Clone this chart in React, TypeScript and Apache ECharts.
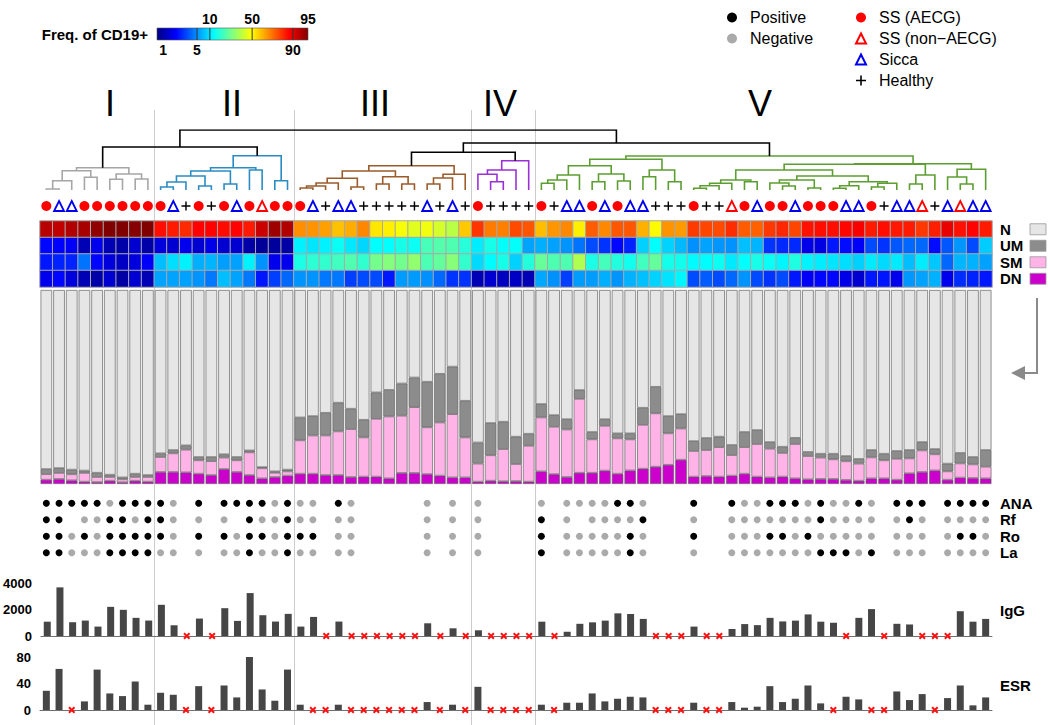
import React, { useEffect, useRef } from 'react';
import * as echarts from 'echarts';

const FONT = '"Liberation Sans", Arial, Helvetica, sans-serif';

const clusterNames = ['I', 'II', 'III', 'IV', 'V'];
const clusterSizes = [9, 11, 14, 5, 36];
const clusterColors = ['#a6a6a6', '#2b8cc4', '#9c5b2b', '#9b30d8', '#5c9e31'];
const clusterLabelX = [110, 232, 375, 500, 760];

// A = SS (AECG), N = SS (non−AECG), S = Sicca, H = Healthy
const groupCodes = [
  'ASSAAAAAA',
  'ASHAHASANAA',
  'ASHSSHHHHHSHSH',
  'AHHHH',
  'AHSSASASSHHHAHHNASAASAAASSAHSSNHSNSS',
].join('').split('');

// B-cell subset frequencies (% of CD19+)
const pctN = [92.3, 91.8, 92.6, 93.1, 94.2, 95.2, 96.6, 94.7, 95.4,
  84.2, 82.5, 80.1, 86.1, 86.1, 84.7, 86.1, 82.7, 91.3, 93.5, 92.6,
  65.7, 65.0, 63.3, 58.1, 61.2, 66.9, 52.8, 51.5, 48.2, 45.1, 47.3, 43.2, 39.5, 57.1,
  78.6, 68.6, 67.9, 75.6, 74.1,
  58.8, 64.5, 66.6, 51.6, 73.2, 66.6, 73.9, 73.9, 60.7, 49.9, 65.0, 64.0, 77.9, 76.3, 75.6, 79.9, 73.2, 72.2,
  78.4, 80.8, 76.2, 83.5, 84.4, 84.4, 85.6, 87.1, 82.5, 84.4, 83.0, 82.5, 78.4, 82.0, 89.5, 84.0, 86.1, 82.5];
const pctUM = [2.6, 2.5, 2.4, 1.2, 2.2, 1.2, 1.0, 1.7, 1.0,
  1.9, 1.7, 2.2, 1.7, 2.1, 1.7, 1.7, 1.0, 0.6, 0.7, 0.9,
  11.8, 10.0, 11.7, 14.8, 10.5, 9.1, 13.6, 13.7, 16.6, 15.3, 23.5, 25.1, 24.5, 18.9,
  10.9, 16.6, 14.1, 14.1, 6.2,
  6.9, 6.0, 5.3, 4.5, 3.8, 3.4, 2.6, 3.1, 8.8, 13.7, 8.9, 7.4, 5.1, 6.2, 5.4, 5.2, 7.8, 7.2,
  3.4, 3.2, 3.2, 2.1, 2.0, 2.9, 2.7, 2.4, 3.8, 3.4, 4.0, 4.3, 4.3, 2.7, 4.0, 5.4, 3.8, 8.6];
const pctSM = [2.9, 3.1, 3.1, 4.5, 2.6, 1.9, 1.5, 1.9, 2.4,
  7.7, 9.6, 11.7, 6.9, 7.2, 5.9, 6.0, 11.7, 5.2, 2.2, 2.2,
  17.2, 19.7, 20.4, 22.5, 24.7, 20.2, 29.8, 31.9, 29.5, 33.9, 24.1, 27.4, 32.6, 20.6,
  9.3, 13.1, 16.6, 8.8, 18.5,
  27.8, 24.4, 24.5, 38.1, 17.2, 23.1, 18.2, 16.0, 22.6, 27.5, 16.2, 16.1, 13.2, 13.4, 15.2, 10.6, 13.7, 16.8,
  14.8, 12.2, 17.7, 12.0, 11.0, 10.1, 9.6, 8.8, 10.8, 9.3, 10.8, 7.7, 11.1, 8.3, 4.3, 7.3, 7.0, 6.0];
const pctDN = [2.2, 2.6, 1.9, 1.2, 1.0, 1.7, 0.9, 1.7, 1.2,
  6.2, 6.2, 6.0, 5.3, 4.6, 7.7, 6.2, 4.6, 2.9, 3.6, 4.3,
  5.3, 5.3, 4.6, 4.6, 3.6, 3.8, 3.8, 2.9, 5.7, 5.7, 5.1, 4.3, 3.4, 3.4,
  1.2, 1.7, 1.4, 1.5, 1.2,
  6.5, 5.1, 3.6, 5.8, 5.8, 6.9, 5.3, 7.0, 7.9, 8.9, 9.9, 12.5, 3.8, 4.1, 3.8, 4.3, 5.3, 3.8,
  3.4, 3.8, 2.9, 2.4, 2.6, 2.6, 2.1, 1.7, 2.9, 2.9, 2.2, 5.5, 6.2, 7.0, 2.2, 3.3, 3.1, 2.9];

// serum IgG and ESR (null = not measured)
const igg = [1080, 3670, 1040, 1165, 710, 2200, 1975, 1370, 1165,
  2355, 810, null, 1316, null, 2100, 1140, 3240, 1570, 1090, 1670,
  710, 1440, null, 1090, null, null, null, null, null, null, 960, null, 580, null,
  430, null, null, null, null,
  1080, null, 320, 920, 1030, 1160, 1710, 1660, 1290, null, null, null, 710, null, null, 530, 900, 820,
  1370, 1100, 1160, 1630, 1080, 1000, null, 1370, 2030, null, 920, 870, null, null, null, 1870, 1080, 1290];
const esr = [29, 62, null, 13, 61, 25, 21, 43, 8,
  26, 23, null, 36, null, 37, 19, 80, 31, 14, 61,
  8, null, null, 8, null, null, null, null, null, null, 12, null, 8, null,
  35, null, null, null, null,
  8, null, 11, 11, 25, 13, 17, 20, 19, null, null, null, 11, null, null, 12, 3.5, 5,
  36, 12, 17, 37, 10, null, 20, 16, null, null, 28, 15, 24, null, 18, 37, 7, 19];

// autoantibodies: 1 positive, 0 negative, - not tested
const ana = '111110111' + '10-1-111101' + '00-10-----0-0-' + '0----' + '0-0000110---1--100111010010-111-1111';
const rf = '11-001101' + '10-0-0-1001' + '00-00-----0-0-' + '0----' + '1-0-00001---0--000000010000-010-0000';
const ro = '110101111' + '10-1-101101' + '11-00-----0-0-' + '0----' + '1-0000010---1--000110100000-000-0110';
const la = '110001111' + '00-0-001001' + '00-00-----0-0-' + '0----' + '1-0000010---0--000000011101-000-0000';
const abNames = ['ANA', 'Rf', 'Ro', 'La'];
const subsetNames = ['N', 'UM', 'SM', 'DN'];

// dendrogram: [left, right, mergeHeight]; leaves are column numbers
type T = number | [T, T, number];
const dendroI: T = [[[[1, 2, 1], 3, 9.3], [4, 5, 12.7], 19.3], [[6, 7, 10.7], [8, 9, 11], 16], 22.3];
const dendroII: T = [[[[[[10, 11, 3], 12, 8], [13, 14, 4], 14], [15, 16, 6], 19], [17, 18, 20], 22.3], [19, 20, 9.3], 34.3];
const dendroIII: T = [[[[[[21, 22, 2], 23, 4], 24, 7], [25, 26, 3], 11.7], [[27, 28, 6], [29, 30, 6], 13.3], 19], [[[31, 32, 6], 33, 12], 34, 15.7], 24.3];
const dendroIV: T = [[[35, [36, 37, 8.3], 15.7], 38, 20], 39, 29.3];
const dendroV: T = [
  [[[[[40, 41, 6.7], 42, 10], 43, 15], [[44, 45, 8.3], [46, 47, 9], 16], 24.3], [[48, 49, 13.3], [50, 51, 8.3], 20], 30.7],
  [[[[[[[52, 53, 1.7], 54, 4.3], 55, 6.7], [56, 57, 8.3], 10],
    [[[58, [59, 60, 4], 7], [61, 62, 2], 10], [[[63, 64, 1.7], 65, 4.3], [[66, 67, 3], 68, 6.7], 8.3], 14], 20],
    [[69, 70, 6], 71, 15], 25.7], [[72, [73, 74, 6], 13], 75, 20.7], 26.3],
  34];
// top level joins clusters (indices into clusterTrees)
const topTree: T = [[0, 1, 43], [[2, 3, 37.7], 4, 47], 60];
const clusterTrees = [dendroI, dendroII, dendroIII, dendroIV, dendroV];

// colour scale (non-linear jet)
const scaleBreaks = [0, 1, 5, 10, 50, 90, 95, 100];
const scaleStops = [0, 0.04, 0.265, 0.35, 0.63, 0.9, 1, 1];
const jet = ['#000080', '#0000ff', '#0080ff', '#00ffff', '#80ff80', '#ffff00', '#ff8000', '#ff0000', '#800000'];
const cbTop = ['10', '50', '95'];
const cbBottom = ['1', '5', '90'];
const cbLines = [5, 10, 50, 90];

const PLUS = 'path://M4.2,0H5.8V4.2H10V5.8H5.8V10H4.2V5.8H0V4.2H4.2Z';
const XMARK = 'path://M2,0L5,3L8,0L10,2L7,5L10,8L8,10L5,7L2,10L0,8L3,5L0,2Z';

function colorPos(v: number) {
  if (v <= 0) return 0;
  for (let i = 1; i < scaleBreaks.length; i++) {
    if (v <= scaleBreaks[i]) {
      const f = (v - scaleBreaks[i - 1]) / (scaleBreaks[i] - scaleBreaks[i - 1]);
      return scaleStops[i - 1] + f * (scaleStops[i] - scaleStops[i - 1]);
    }
  }
  return 1;
}

function buildOption() {
  const L = 40, W = 952;
  const COLS = groupCodes.length;
  const cats = groupCodes.map((_, i) => String(i + 1));
  const bounds: number[] = [];
  let acc = 0;
  clusterSizes.slice(0, -1).forEach((s) => { acc += s; bounds.push(acc); });

  // dendrogram links
  const links: any[] = [];
  const lay = (t: T, color: string): { x: number; h: number } => {
    if (typeof t === 'number') return { x: t - 0.5, h: 0 };
    const a = lay(t[0], color), b = lay(t[1], color);
    links.push({ coords: [[a.x, a.h], [a.x, t[2]], [b.x, t[2]], [b.x, b.h]], lineStyle: { color } });
    return { x: (a.x + b.x) / 2, h: t[2] };
  };
  const layTop = (t: T): { x: number; h: number } => {
    if (typeof t === 'number') return lay(clusterTrees[t], clusterColors[t]);
    const a = layTop(t[0]), b = layTop(t[1]);
    links.push({ coords: [[a.x, a.h], [a.x, t[2]], [b.x, t[2]], [b.x, b.h]], lineStyle: { color: '#000' } });
    return { x: (a.x + b.x) / 2, h: t[2] };
  };
  layTop(topTree);

  const groupDefs = [
    { code: 'A', name: 'SS (AECG)', symbol: 'circle', size: 10, itemStyle: { color: '#ff0000', opacity: 1 } },
    { code: 'N', name: 'SS (non−AECG)', symbol: 'triangle', size: 10, itemStyle: { color: '#ffffff', borderColor: '#ff0000', borderWidth: 1.8, opacity: 1 } },
    { code: 'S', name: 'Sicca', symbol: 'triangle', size: 10, itemStyle: { color: '#ffffff', borderColor: '#0000ee', borderWidth: 1.8, opacity: 1 } },
    { code: 'H', name: 'Healthy', symbol: PLUS, size: 9, itemStyle: { color: '#000000', opacity: 1 } },
  ];

  const subsetArrays = [pctN, pctUM, pctSM, pctDN];
  const heatData: number[][] = [];
  subsetArrays.forEach((arr, r) => arr.forEach((v, i) => heatData.push([i, r, colorPos(v)])));

  const barDefs = [
    { name: 'DN', data: pctDN, color: '#cc00cc' },
    { name: 'SM', data: pctSM, color: '#ffb3e6' },
    { name: 'UM', data: pctUM, color: '#8c8c8c' },
    { name: 'N', data: pctN, color: '#e6e6e6' },
  ];

  const abRows = [ana, rf, ro, la];
  const posData: number[][] = [], negData: number[][] = [];
  abRows.forEach((row, r) => row.split('').forEach((c, i) => {
    if (c === '1') posData.push([i, r]);
    else if (c === '0') negData.push([i, r]);
  }));
  const missing = (arr: (number | null)[]) => arr.map((v, i) => (v == null ? [i, 0] : null)).filter(Boolean);

  const hidden = { show: false };
  const catX = (g: number, showLine = false) => ({
    gridIndex: g, type: 'category', data: cats, boundaryGap: true,
    axisLine: { show: showLine, lineStyle: { color: '#707070', width: 1 } },
    axisTick: hidden, axisLabel: hidden, splitLine: hidden,
  });
  const axLabel = { fontFamily: FONT, fontWeight: 'bold', fontSize: 13, color: '#000' };

  // colorbar geometry
  const cbX = 157, cbW = 151, cbY = 28, cbH = 12;
  const cbPx = (v: number) => cbX + colorPos(v) * cbW;
  const graphics: any[] = [];
  clusterNames.forEach((n, i) => graphics.push({
    type: 'text', x: clusterLabelX[i], y: 103, silent: true,
    style: { text: n, fill: '#000', font: `36px ${FONT}`, align: 'center', verticalAlign: 'middle' },
  }));
  graphics.push({ type: 'text', x: 148, y: 34, style: { text: 'Freq. of CD19+', fill: '#000', font: `bold 15px ${FONT}`, align: 'right', verticalAlign: 'middle' } });
  graphics.push({
    type: 'rect', shape: { x: cbX, y: cbY, width: cbW, height: cbH },
    style: {
      fill: new echarts.graphic.LinearGradient(0, 0, 1, 0, jet.map((c, i) => ({ offset: i / (jet.length - 1), color: c }))),
      stroke: '#555', lineWidth: 0.6,
    },
  });
  cbLines.forEach((v) => graphics.push({ type: 'line', shape: { x1: cbPx(v), y1: cbY, x2: cbPx(v), y2: cbY + cbH }, style: { stroke: '#333', lineWidth: 1 } }));
  cbTop.forEach((t) => graphics.push({ type: 'text', x: cbPx(+t), y: 19, style: { text: t, fill: '#000', font: `bold 14px ${FONT}`, align: 'center', verticalAlign: 'middle' } }));
  cbBottom.forEach((t) => graphics.push({ type: 'text', x: cbPx(+t), y: 50, style: { text: t, fill: '#000', font: `bold 14px ${FONT}`, align: 'center', verticalAlign: 'middle' } }));
  // subset swatches
  barDefs.slice().reverse().forEach((b, r) => graphics.push({
    type: 'rect', shape: { x: 1030, y: 221 + 66 / 8 + r * 16.5 - 5.5, width: 16, height: 11 },
    style: { fill: b.color, stroke: '#999', lineWidth: 0.8 },
  }));
  graphics.push({ type: 'text', x: 1000, y: 610, style: { text: 'IgG', fill: '#000', font: `bold 15px ${FONT}`, align: 'left', verticalAlign: 'middle' } });
  graphics.push({ type: 'text', x: 1000, y: 685, style: { text: 'ESR', fill: '#000', font: `bold 15px ${FONT}`, align: 'left', verticalAlign: 'middle' } });
  graphics.push({ type: 'polyline', shape: { points: [[1037, 298], [1037, 373], [1024, 373]] }, style: { stroke: '#8a8a8a', lineWidth: 2, fill: 'none' } });
  graphics.push({ type: 'polygon', shape: { points: [[1011, 373], [1025, 366], [1025, 380]] }, style: { fill: '#8a8a8a' } });

  const legendText = { fontFamily: FONT, fontSize: 16, color: '#000', lineHeight: 21, padding: [0, 0, 0, 8] };

  return {
    animation: false,
    backgroundColor: '#ffffff',
    textStyle: { fontFamily: FONT },
    grid: [
      { left: L, width: W, top: 110, height: 615 },
      { left: L, width: W, top: 130, height: 60 },
      { left: L, width: W, top: 199, height: 14 },
      { left: L, width: W, top: 221, height: 66 },
      { left: L, width: W, top: 290, height: 194 },
      { left: L, width: W, top: 495, height: 66 },
      { left: L, width: W, top: 583, height: 53 },
      { left: L, width: W, top: 657, height: 53 },
    ],
    xAxis: [
      { gridIndex: 0, type: 'value', min: 0, max: COLS, show: false },
      { gridIndex: 1, type: 'value', min: 0, max: COLS, show: false },
      catX(2), catX(3), catX(4), catX(5), catX(6, true), catX(7, true),
    ],
    yAxis: [
      { gridIndex: 0, type: 'value', min: 0, max: 1, show: false },
      { gridIndex: 1, type: 'value', min: 0, max: 60, show: false },
      { gridIndex: 2, type: 'value', min: -1, max: 1, show: false },
      {
        gridIndex: 3, type: 'category', data: subsetNames, inverse: true, position: 'right',
        axisLine: hidden, axisTick: hidden, splitLine: hidden,
        axisLabel: { ...axLabel, fontSize: 15, margin: 8, interval: 0 },
      },
      { gridIndex: 4, type: 'value', min: 0, max: 100, show: false },
      {
        gridIndex: 5, type: 'category', data: abNames, inverse: true, position: 'right',
        axisLine: hidden, axisTick: hidden, splitLine: hidden,
        axisLabel: { ...axLabel, fontSize: 15, margin: 8, interval: 0 },
      },
      {
        gridIndex: 6, type: 'value', min: 0, max: 4000, interval: 2000,
        axisLine: hidden, axisTick: hidden, splitLine: hidden,
        axisLabel: { ...axLabel, margin: 9, formatter: (v: number) => String(v) },
      },
      {
        gridIndex: 7, type: 'value', min: 0, max: 80, interval: 40,
        axisLine: hidden, axisTick: hidden, splitLine: hidden,
        axisLabel: { ...axLabel, margin: 9, formatter: (v: number) => String(v) },
      },
    ],
    visualMap: {
      type: 'continuous', show: false, min: 0, max: 1, seriesIndex: 6, dimension: 2,
      inRange: { color: jet },
    },
    legend: [
      {
        data: ['Positive', 'Negative'], left: 722, top: 2, orient: 'vertical', selectedMode: false,
        itemWidth: 10, itemHeight: 10, itemGap: 0, textStyle: legendText,
      },
      {
        data: groupDefs.map((g) => g.name), left: 850, top: 2, orient: 'vertical', selectedMode: false,
        itemWidth: 10, itemHeight: 10, itemGap: 0, textStyle: legendText,
      },
    ],
    graphic: { elements: graphics },
    series: [
      {
        type: 'lines', coordinateSystem: 'cartesian2d', xAxisIndex: 0, yAxisIndex: 0, silent: true, z: 0,
        lineStyle: { color: '#cccccc', width: 1, opacity: 1 },
        data: bounds.map((b) => ({ coords: [[b, 0], [b, 1]] })),
      },
      {
        type: 'lines', coordinateSystem: 'cartesian2d', polyline: true, xAxisIndex: 1, yAxisIndex: 1, silent: true,
        lineStyle: { width: 1.6, opacity: 1 }, data: links,
      },
      ...groupDefs.map((g) => ({
        type: 'scatter', name: g.name, xAxisIndex: 2, yAxisIndex: 2, silent: true,
        symbol: g.symbol, symbolSize: g.size, itemStyle: g.itemStyle,
        data: groupCodes.map((c, i) => (c === g.code ? [i, 0] : null)).filter(Boolean),
      })),
      {
        type: 'heatmap', xAxisIndex: 3, yAxisIndex: 3, silent: true, data: heatData,
        itemStyle: { borderColor: '#a8a8a8', borderWidth: 1 },
      },
      ...barDefs.map((b) => ({
        type: 'bar', name: b.name, xAxisIndex: 4, yAxisIndex: 4, stack: 'subsets', silent: true,
        barCategoryGap: '9%', data: b.data,
        itemStyle: { color: b.color, borderColor: '#666666', borderWidth: 0.7 },
      })),
      {
        type: 'scatter', name: 'Positive', xAxisIndex: 5, yAxisIndex: 5, silent: true,
        symbol: 'circle', symbolSize: 7, itemStyle: { color: '#000000', opacity: 1 }, data: posData,
      },
      {
        type: 'scatter', name: 'Negative', xAxisIndex: 5, yAxisIndex: 5, silent: true,
        symbol: 'circle', symbolSize: 7, itemStyle: { color: '#aaaaaa', opacity: 1 }, data: negData,
      },
      {
        type: 'bar', name: 'IgG', xAxisIndex: 6, yAxisIndex: 6, silent: true, barWidth: 7,
        itemStyle: { color: '#464646' }, data: igg,
      },
      {
        type: 'scatter', name: 'IgG n/a', xAxisIndex: 6, yAxisIndex: 6, silent: true, z: 5,
        symbol: XMARK, symbolSize: 7, itemStyle: { color: '#ff1010', opacity: 1 }, data: missing(igg),
      },
      {
        type: 'bar', name: 'ESR', xAxisIndex: 7, yAxisIndex: 7, silent: true, barWidth: 7,
        itemStyle: { color: '#464646' }, data: esr,
      },
      {
        type: 'scatter', name: 'ESR n/a', xAxisIndex: 7, yAxisIndex: 7, silent: true, z: 5,
        symbol: XMARK, symbolSize: 7, itemStyle: { color: '#ff1010', opacity: 1 }, data: missing(esr),
      },
    ],
  };
}

export default function App() {
  const ref = useRef<HTMLDivElement>(null);
  useEffect(() => {
    if (!ref.current) return;
    const chart = echarts.init(ref.current, null, { renderer: 'svg' });
    chart.setOption(buildOption() as any);
    return () => chart.dispose();
  }, []);
  return (
    <div
      ref={ref}
      style={{ position: 'absolute', left: 0, top: 0, width: 1050, height: 725, background: '#fff' }}
    />
  );
}
